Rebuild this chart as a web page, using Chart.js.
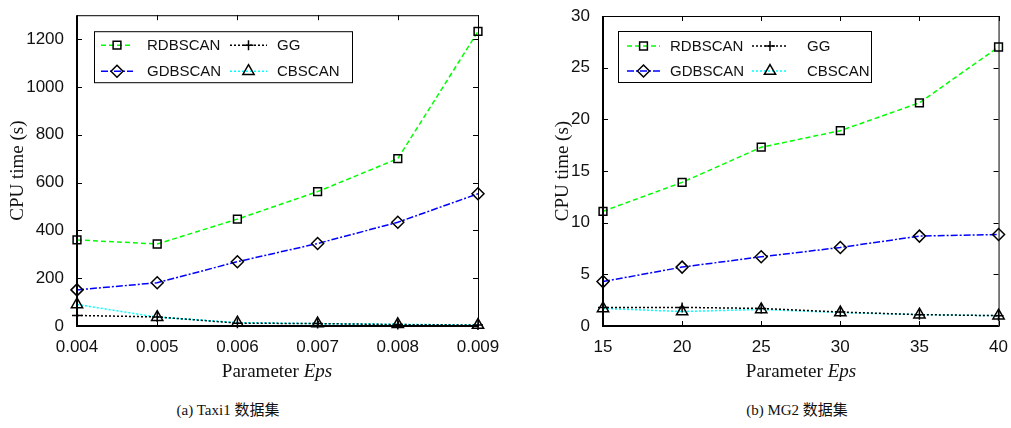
<!DOCTYPE html>
<html>
<head>
<meta charset="utf-8">
<script src="https://cdn.jsdelivr.net/npm/chart.js@4.4.1/dist/chart.umd.min.js"></script>
<style>
  body { margin: 0; background: #fff; }
  #wrap { position: relative; width: 1011px; height: 428px; overflow: hidden; }
  canvas { position: absolute; top: 0; }
  .xt, .cap { position: absolute; text-align: center; color: #111; white-space: nowrap; }
  .xt { font: 19px "Liberation Serif", serif; width: 240px; height: 24px; line-height: 24px; top: 359px; }
  .cap { font: 15px "Liberation Serif", "Noto Sans CJK SC", serif; width: 240px; height: 20px; line-height: 20px; top: 400px; }
</style>
</head>
<body>
<div id="wrap">
  <canvas id="c1" width="520" height="390" style="left:0"></canvas>
  <canvas id="c2" width="491" height="390" style="left:520px"></canvas>
  <div class="xt" style="left:157px">Parameter <i>Eps</i></div>
  <div class="xt" style="left:681px">Parameter <i>Eps</i></div>
  <div class="cap" style="left:108px">(a) Taxi1 数据集</div>
  <div class="cap" style="left:677px">(b) MG2 数据集</div>
</div>
<script>
// valeurs
const seriesNames = ['RDBSCAN', 'GG', 'GDBSCAN', 'CBSCAN'];

const taxiEps = ['0.004', '0.005', '0.006', '0.007', '0.008', '0.009'];
const taxiRdbscan = [360, 343, 447, 562, 700, 1232];
const taxiGG = [44, 38, 12, 10, 6, 4];
const taxiGdbscan = [151, 181, 269, 345, 434, 553];
const taxiCbscan = [90, 37, 14, 10, 7, 4];

const mgEps = ['15', '20', '25', '30', '35', '40'];
const mgRdbscan = [11.1, 13.9, 17.3, 18.9, 21.6, 27.0];
const mgGG = [1.8, 1.8, 1.7, 1.35, 1.1, 1.0];
const mgGdbscan = [4.3, 5.7, 6.7, 7.6, 8.7, 8.85];
const mgCbscan = [1.7, 1.4, 1.6, 1.3, 1.1, 1.0];

const styles = [
  { color: '#00ff00', dash: [5, 3], point: 'rect', r: 5.5 },
  { color: '#000000', dash: [2, 2], point: 'cross', r: 5 },
  { color: '#0000ff', dash: [7, 2, 2, 2], point: 'rectRot', r: 6 },
  { color: '#00ffff', dash: [2, 2], point: 'triangle', r: 6.5 }
];

function makeDatasets(lists) {
  return lists.map((vals, i) => ({
    label: seriesNames[i],
    data: vals,
    borderColor: styles[i].color,
    borderWidth: 1.5,
    borderDash: styles[i].dash,
    pointStyle: styles[i].point,
    pointRadius: styles[i].r,
    pointBorderColor: '#000',
    pointBackgroundColor: 'rgba(0,0,0,0)',
    pointBorderWidth: 1.5,
    tension: 0,
    clip: false
  }));
}

function drawMarker(ctx, st, x, y) {
  ctx.save();
  ctx.strokeStyle = '#000';
  ctx.fillStyle = 'rgba(0,0,0,0)';
  ctx.lineWidth = 1.5;
  ctx.setLineDash([]);
  if (Chart.helpers && Chart.helpers.drawPoint) {
    Chart.helpers.drawPoint(ctx, { pointStyle: st.point, radius: st.r, borderWidth: 1.5, rotation: 0 }, x, y);
  }
  ctx.restore();
}

// cadre + graduations vers l'intérieur + légende façon matlab
const matlabBox = {
  id: 'matlabBox',
  afterDraw(chart, args, opts) {
    const { ctx, chartArea: a, scales } = chart;
    ctx.save();
    ctx.strokeStyle = '#000';
    ctx.setLineDash([]);
    ctx.lineWidth = 1;
    ctx.strokeRect(a.left + 0.5, a.top + 0.5, a.right - a.left, a.bottom - a.top);
    ctx.lineWidth = 2;
    ctx.beginPath();
    ctx.moveTo(a.left, a.top);
    ctx.lineTo(a.left, a.bottom);
    ctx.lineTo(a.right, a.bottom);
    ctx.stroke();

    ctx.lineWidth = 1;
    const t = 5;
    scales.x.ticks.forEach((tk, i) => {
      const px = Math.round(scales.x.getPixelForTick(i)) + 0.5;
      ctx.beginPath();
      ctx.moveTo(px, a.bottom); ctx.lineTo(px, a.bottom - t);
      ctx.moveTo(px, a.top); ctx.lineTo(px, a.top + t);
      ctx.stroke();
    });
    scales.y.ticks.forEach(tk => {
      const py = Math.round(scales.y.getPixelForValue(tk.value)) + 0.5;
      ctx.beginPath();
      ctx.moveTo(a.left, py); ctx.lineTo(a.left + t, py);
      ctx.moveTo(a.right, py); ctx.lineTo(a.right - t, py);
      ctx.stroke();
    });

    // légende
    const L = opts.legend;
    const bx = a.left + L.x, by = a.top + L.y;
    ctx.fillStyle = '#fff';
    ctx.fillRect(bx, by, L.w, L.h);
    ctx.lineWidth = 1;
    ctx.strokeRect(bx + 0.5, by + 0.5, L.w, L.h);
    ctx.font = '15px "Liberation Sans", Arial, sans-serif';
    ctx.textBaseline = 'middle';
    chart.data.datasets.forEach((ds, i) => {
      const row = Math.floor(i / 2), col = i % 2;
      const c = L.cols[col];
      const y = by + L.rows[row];
      ctx.save();
      ctx.strokeStyle = ds.borderColor;
      ctx.lineWidth = 1.5;
      ctx.setLineDash(ds.borderDash);
      ctx.beginPath();
      ctx.moveTo(bx + c.x0, y); ctx.lineTo(bx + c.x1, y);
      ctx.stroke();
      ctx.restore();
      drawMarker(ctx, styles[i], bx + (c.x0 + c.x1) / 2, y);
      ctx.fillStyle = '#111';
      ctx.fillText(ds.label, bx + c.tx, y + 1);
    });
    ctx.restore();
  }
};

function makeChart(id, labels, lists, yMax, yStep, yWidth, titlePad, pad, legend) {
  new Chart(document.getElementById(id).getContext('2d'), {
    type: 'line',
    data: { labels, datasets: makeDatasets(lists) },
    options: {
      responsive: false,
      devicePixelRatio: 1,
      animation: false,
      layout: { padding: pad },
      plugins: { legend: { display: false }, tooltip: { enabled: false }, matlabBox: { legend } },
      scales: {
        x: {
          type: 'category',
          offset: false,
          grid: { display: false },
          border: { display: false },
          ticks: { color: '#111', font: { family: '"Liberation Sans", Arial, sans-serif', size: 17 }, padding: 3, maxRotation: 0, autoSkip: false },
          afterFit(s) { s.height = 64; }
        },
        y: {
          min: 0, max: yMax,
          grid: { display: false },
          border: { display: false },
          ticks: {
            stepSize: yStep, includeBounds: false, color: '#111', padding: 5,
            font: { family: '"Liberation Sans", Arial, sans-serif', size: 17 },
            callback: v => String(v)
          },
          title: { display: true, text: 'CPU time (s)', color: '#111', padding: { top: titlePad, bottom: 0 }, font: { family: '"Liberation Serif", serif', size: 19 } },
          afterFit(s) { s.width = yWidth; }
        }
      }
    },
    plugins: [matlabBox]
  });
}

makeChart('c1', taxiEps, [taxiRdbscan, taxiGG, taxiGdbscan, taxiCbscan], 1300, 200, 77, 7,
  { top: 11, right: 42, left: 0, bottom: 0 },
  { x: 17, y: 16, w: 258, h: 51, rows: [14, 40], cols: [{ x0: 7, x1: 39, tx: 53 }, { x0: 136, x1: 173, tx: 183 }] });

makeChart('c2', mgEps, [mgRdbscan, mgGG, mgGdbscan, mgCbscan], 30, 5, 83, 32,
  { top: 16, right: 11, left: 0, bottom: 0 },
  { x: 15, y: 15, w: 253, h: 51, rows: [15, 40], cols: [{ x0: 9, x1: 42, tx: 52 }, { x0: 134, x1: 170, tx: 189 }] });
</script>
</body>
</html>
